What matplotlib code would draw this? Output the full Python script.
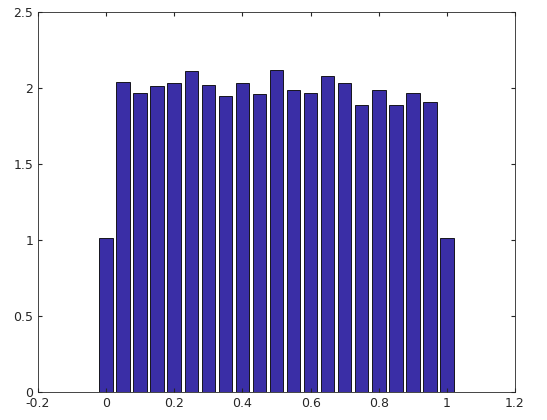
import matplotlib
matplotlib.use("Agg")
import matplotlib.pyplot as plt

# bin centres and heights
centres = [i * 0.05 for i in range(21)]
heights = [1.01, 2.04, 1.97, 2.01, 2.03, 2.11, 2.02, 1.95, 2.03, 1.96, 2.12,
           1.99, 1.97, 2.08, 2.03, 1.89, 1.99, 1.89, 1.97, 1.91, 1.01]
xticks = [-0.2, 0, 0.2, 0.4, 0.6, 0.8, 1, 1.2]
xtick_labels = ["-0.2", "0", "0.2", "0.4", "0.6", "0.8", "1", "1.2"]
yticks = [0, 0.5, 1, 1.5, 2, 2.5]
ytick_labels = ["0", "0.5", "1", "1.5", "2", "2.5"]

fig = plt.figure(figsize=(5.47, 4.2), dpi=100)
ax = fig.add_axes([38 / 547, 28 / 420, 477 / 547, 380 / 420])

ax.bar(centres, heights, width=0.04, color="#3a2ea6", edgecolor="black", linewidth=0.6)

ax.set_xlim(-0.2, 1.2)
ax.set_ylim(0, 2.5)
ax.set_xticks(xticks, xtick_labels)
ax.set_yticks(yticks, ytick_labels)
ax.tick_params(direction="in", labelsize=9, colors="#262626", top=True, right=True, length=3)
for s in ax.spines.values():
    s.set_color("#262626")
    s.set_linewidth(0.6)

fig.savefig("out.png", dpi=100)
